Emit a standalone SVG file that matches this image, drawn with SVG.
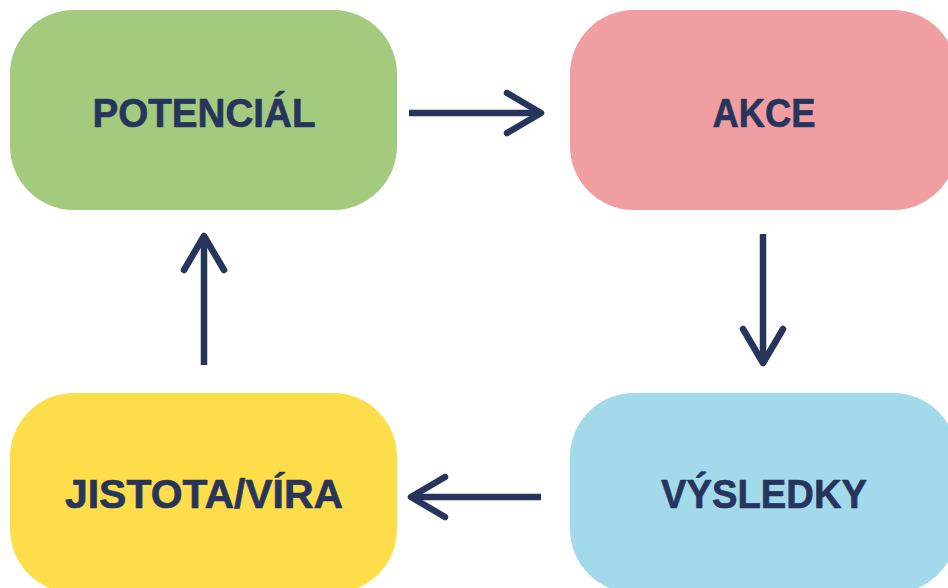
<svg xmlns="http://www.w3.org/2000/svg" width="948" height="588" viewBox="0 0 948 588">
  <defs>
    <style>
      .box { stroke: none; }
      .label { font-family: "Liberation Sans", "DejaVu Sans", sans-serif; font-weight: bold; font-size: 41px; fill: #27355C; stroke: #27355C; stroke-width: 0.7; stroke-linejoin: round; text-anchor: middle; }
      .conn { stroke: #27355C; stroke-width: 6.5; fill: none; stroke-linecap: butt; }
    </style>
    <marker id="chev" markerUnits="userSpaceOnUse" viewBox="-45 -30 60 60" markerWidth="60" markerHeight="60" refX="0" refY="0" orient="auto" overflow="visible">
      <path d="M-34,-20 L0,0 L-34,20" fill="none" stroke="#27355C" stroke-width="6.5" stroke-linecap="round" stroke-linejoin="round"/>
    </marker>
  </defs>
  <rect width="948" height="588" fill="#FFFFFF"/>

  <g id="potencial">
    <rect class="box" x="10" y="10" width="387" height="200" rx="64" ry="64" fill="#A4CA7E"/>
    <text class="label" x="204" y="127" textLength="223" lengthAdjust="spacingAndGlyphs">POTENCIÁL</text>
  </g>
  <g id="akce">
    <rect class="box" x="570" y="10" width="387" height="200" rx="64" ry="64" fill="#F09EA2"/>
    <text class="label" x="764" y="127" textLength="103" lengthAdjust="spacingAndGlyphs">AKCE</text>
  </g>
  <g id="vysledky">
    <rect class="box" x="570" y="393" width="387" height="200" rx="64" ry="64" fill="#A2DAEC"/>
    <text class="label" x="764" y="508" textLength="206" lengthAdjust="spacingAndGlyphs">VÝSLEDKY</text>
  </g>
  <g id="jistota">
    <rect class="box" x="10" y="393" width="387" height="200" rx="64" ry="64" fill="#FDDD4A"/>
    <text class="label" x="204" y="508" textLength="278" lengthAdjust="spacingAndGlyphs">JISTOTA/VÍRA</text>
  </g>

  <g id="connectors">
    <path class="conn" d="M409,113 L541,113" marker-end="url(#chev)"/>
    <path class="conn" d="M763,234 L763,363" marker-end="url(#chev)"/>
    <path class="conn" d="M541,497 L411,497" marker-end="url(#chev)"/>
    <path class="conn" d="M204,365 L204,236" marker-end="url(#chev)"/>
  </g>
</svg>
